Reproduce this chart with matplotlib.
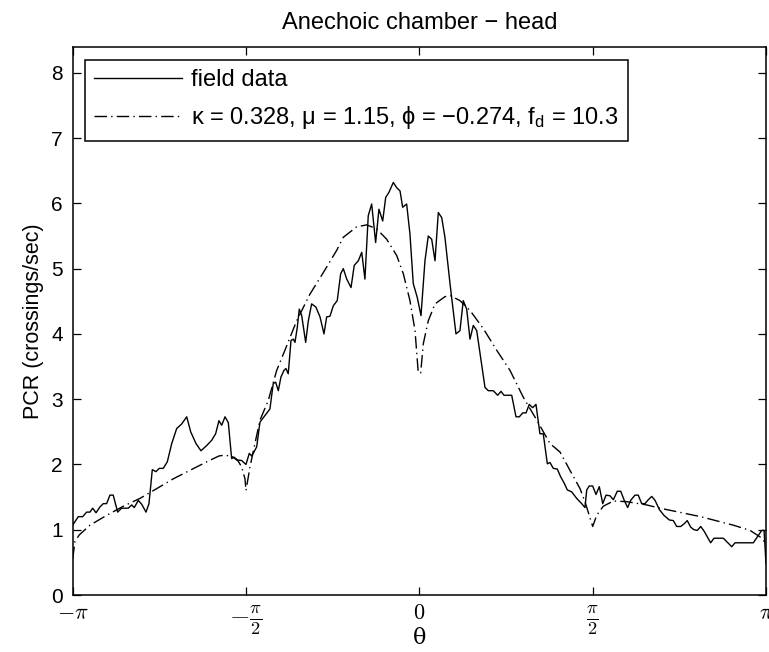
import numpy as np
import matplotlib
matplotlib.use("Agg")
import matplotlib.pyplot as plt

plt.rcParams['font.family'] = ['Liberation Sans', 'DejaVu Sans']
plt.rcParams['mathtext.fontset'] = 'custom'
plt.rcParams['mathtext.rm'] = 'Liberation Sans'
plt.rcParams['mathtext.it'] = 'Liberation Sans:italic'

# ---------- field data (theta in rad, PCR in crossings/sec) ----------
theta_field = [
    -3.1416, -3.091, -3.051, -3.015, -2.985, -2.960, -2.930, -2.894, -2.864, -2.834,
    -2.804, -2.774, -2.734, -2.698, -2.638, -2.607, -2.583, -2.547, -2.516, -2.477,
    -2.450, -2.420, -2.387, -2.357, -2.321, -2.284, -2.244, -2.199, -2.154, -2.108,
    -2.072, -2.024, -1.979, -1.927, -1.882, -1.846, -1.816, -1.791, -1.761, -1.731,
    -1.701, -1.677, -1.650, -1.610, -1.571, -1.541, -1.519, -1.499, -1.474, -1.444,
    -1.399, -1.354, -1.324, -1.302, -1.278, -1.254, -1.227, -1.209, -1.188, -1.163,
    -1.142, -1.127, -1.106, -1.088, -1.066, -1.030, -1.006, -0.976, -0.937, -0.900,
    -0.864, -0.840, -0.810, -0.780, -0.744, -0.713, -0.689, -0.658, -0.619, -0.590,
    -0.553, -0.522, -0.493, -0.463, -0.432, -0.396, -0.366, -0.332, -0.305, -0.275,
    -0.236, -0.205, -0.175, -0.151, -0.115, -0.085, -0.055, -0.019, 0.015, 0.051,
    0.081, 0.112, 0.142, 0.172, 0.203, 0.232, 0.278, 0.332, 0.368, 0.398,
    0.429, 0.459, 0.489, 0.520, 0.595, 0.625, 0.670, 0.710, 0.740, 0.767,
    0.837, 0.876, 0.906, 0.937, 0.967, 0.996, 1.027, 1.057, 1.093, 1.123,
    1.160, 1.184, 1.214, 1.250, 1.281, 1.311, 1.341, 1.381, 1.426, 1.471,
    1.501, 1.517, 1.540, 1.571, 1.601, 1.631, 1.662, 1.692, 1.728, 1.758,
    1.794, 1.825, 1.857, 1.888, 1.915, 1.954, 1.984, 2.015, 2.045, 2.075,
    2.106, 2.136, 2.175, 2.217, 2.265, 2.302, 2.332, 2.369, 2.399, 2.428,
    2.459, 2.489, 2.519, 2.550, 2.580, 2.640, 2.670, 2.755, 2.831, 2.861,
    3.027, 3.103, 3.124, 3.1416,
]
pcr_field = [
    1.07, 1.20, 1.20, 1.27, 1.27, 1.33, 1.26, 1.35, 1.40, 1.40,
    1.53, 1.53, 1.27, 1.33, 1.33, 1.38, 1.34, 1.45, 1.39, 1.27,
    1.40, 1.92, 1.89, 1.94, 1.94, 2.04, 2.32, 2.55, 2.62, 2.73,
    2.50, 2.32, 2.21, 2.29, 2.37, 2.47, 2.67, 2.60, 2.73, 2.64,
    2.09, 2.11, 2.07, 2.06, 2.00, 2.17, 2.13, 2.19, 2.27, 2.65,
    2.75, 2.85, 3.24, 3.26, 3.13, 3.34, 3.44, 3.47, 3.39, 3.90,
    3.92, 3.87, 4.10, 4.38, 4.28, 3.87, 4.20, 4.46, 4.41, 4.26,
    4.00, 4.26, 4.27, 4.43, 4.51, 4.92, 5.00, 4.84, 4.71, 5.05,
    5.12, 5.25, 4.84, 5.81, 5.99, 5.40, 5.91, 5.73, 6.09, 6.17,
    6.32, 6.24, 6.19, 5.94, 5.99, 5.53, 4.77, 4.56, 4.28, 5.12,
    5.50, 5.45, 5.12, 5.86, 5.78, 5.48, 4.77, 4.00, 4.05, 4.51,
    4.38, 3.92, 4.13, 4.05, 3.18, 3.13, 3.13, 3.06, 3.12, 3.06,
    3.06, 2.73, 2.73, 2.79, 2.79, 2.92, 2.87, 2.92, 2.47, 2.47,
    2.01, 2.03, 1.94, 1.93, 1.81, 1.72, 1.61, 1.58, 1.48, 1.40,
    1.34, 1.61, 1.67, 1.67, 1.54, 1.66, 1.40, 1.53, 1.52, 1.46,
    1.59, 1.59, 1.45, 1.34, 1.45, 1.53, 1.53, 1.40, 1.40, 1.46,
    1.51, 1.45, 1.31, 1.22, 1.15, 1.14, 1.05, 1.05, 1.09, 1.14,
    1.04, 1.00, 0.99, 1.05, 0.98, 0.80, 0.87, 0.87, 0.74, 0.80,
    0.80, 0.99, 0.99, 0.48,
]

# ---------- fitted model curve ----------
theta_fit = [
    -3.1416, -3.121, -3.082, -2.985, -2.834, -2.683, -2.532, -2.380, -2.230, -2.079,
    -1.927, -1.816, -1.777, -1.701, -1.641, -1.610, -1.580, -1.571, -1.535, -1.490,
    -1.444, -1.369, -1.293, -1.218, -1.112, -0.991, -0.870, -0.749, -0.689, -0.568,
    -0.477, -0.387, -0.296, -0.205, -0.145, -0.085, -0.039, -0.010, 0.012, 0.036,
    0.081, 0.142, 0.232, 0.278, 0.368, 0.459, 0.580, 0.701, 0.822, 0.942,
    1.064, 1.184, 1.275, 1.365, 1.456, 1.501, 1.571, 1.607, 1.667, 1.758,
    1.879, 2.060, 2.181, 2.550, 2.845, 2.997, 3.088, 3.1416,
]
pcr_fit = [
    0.55, 0.82, 0.92, 1.07, 1.22, 1.36, 1.48, 1.63, 1.78, 1.91,
    2.04, 2.13, 2.14, 2.13, 2.05, 1.96, 1.78, 1.60, 1.96, 2.32,
    2.68, 2.98, 3.44, 3.75, 4.20, 4.61, 4.94, 5.28, 5.48, 5.64,
    5.67, 5.61, 5.45, 5.20, 4.92, 4.51, 4.05, 3.41, 3.40, 3.85,
    4.20, 4.46, 4.57, 4.59, 4.51, 4.36, 4.08, 3.75, 3.44, 3.03,
    2.68, 2.32, 2.19, 1.91, 1.63, 1.43, 1.05, 1.22, 1.36, 1.44,
    1.43, 1.38, 1.33, 1.20, 1.07, 0.99, 0.89, 0.79,
]

fit_label = r"κ = 0.328, μ = 1.15, ϕ = −0.274, f$_{\mathrm{d}}$ = 10.3"

xtick_pos = [-np.pi, -np.pi / 2, 0, np.pi / 2, np.pi]
xtick_labels = [r"$-\pi$", r"$-\frac{\pi}{2}$", r"$0$", r"$\frac{\pi}{2}$", r"$\pi$"]

fig = plt.figure(figsize=(7.69, 6.52), dpi=100)
ax = fig.add_axes([0.0945, 0.0874, 0.9016, 0.841])

ax.plot(theta_field, pcr_field, color="black", lw=1.0, label="field data")
ax.plot(theta_fit, pcr_fit, color="black", lw=1.0, linestyle=(0, (9, 3, 1, 3)),
        label=fit_label)

ax.set_xlim(-np.pi, np.pi)
ax.set_ylim(0, 8.4)
ax.set_yticks(range(0, 9))
ax.set_xticks(xtick_pos)

ax.tick_params(direction="in", top=True, right=True, length=6, width=0.9,
               labelsize=15)
ax.tick_params(axis="y", pad=7)
ax.tick_params(axis="x", pad=6)

ax.set_xticklabels(xtick_labels)
for t in ax.get_xticklabels():
    t.set_math_fontfamily("cm")
    # the fraction labels render small in mathtext, so give them a bigger size
    t.set_fontsize(19 if "frac" in t.get_text() else 16)

for s in ax.spines.values():
    s.set_linewidth(1.1)

ax.set_xlabel("θ", fontsize=16, family=["DejaVu Serif"])
ax.xaxis.set_label_coords(0.5, -0.058)
ax.set_ylabel("PCR (crossings/sec)", fontsize=15.5, labelpad=5)
ax.set_title("Anechoic chamber − head", fontsize=17, pad=13)

leg = ax.legend(loc="upper left", bbox_to_anchor=(0.0177, 0.976), borderaxespad=0,
                fontsize=17, handlelength=3.7, handletextpad=0.4,
                labelspacing=0.55, borderpad=0.4, fancybox=False,
                edgecolor="black", framealpha=1)
leg.get_frame().set_linewidth(1.1)

fig.savefig("out.png", dpi=100)
